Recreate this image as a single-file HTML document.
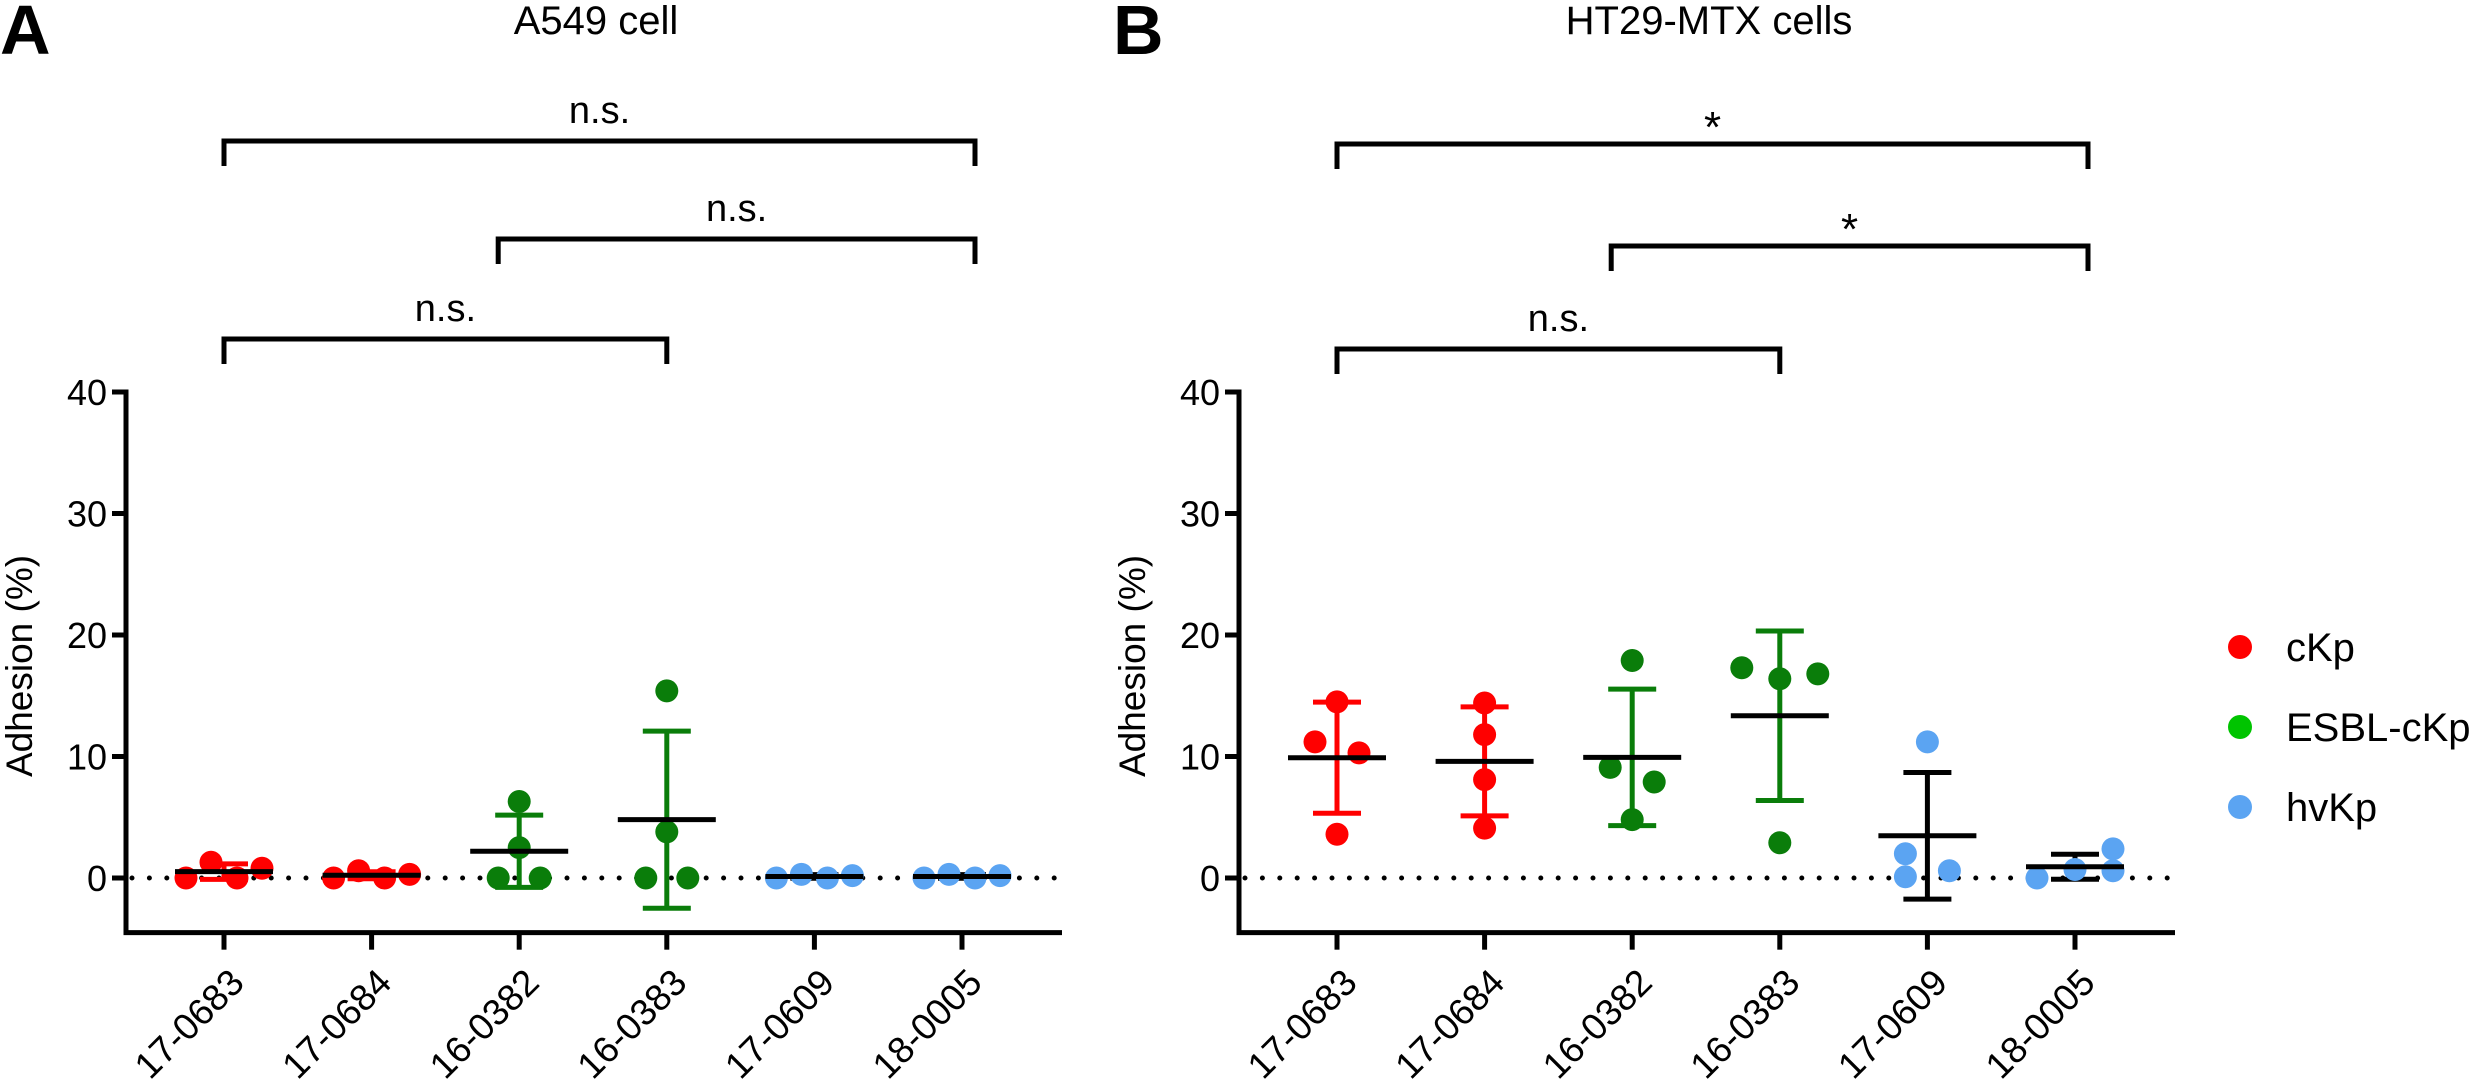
<!DOCTYPE html>
<html><head><meta charset="utf-8">
<style>
html,body{margin:0;padding:0;background:#fff;}
svg{display:block;font-family:"Liberation Sans","DejaVu Sans",sans-serif;}
</style></head>
<body>
<svg id="chart" xmlns="http://www.w3.org/2000/svg" width="2480" height="1092" viewBox="0 0 2480 1092">
<rect width="2480" height="1092" fill="#fff"/>
</svg>
<script>
const categories = ["17-0683","17-0684","16-0382","16-0383","17-0609","18-0005"];
const groupOf = ["cKp","cKp","ESBL-cKp","ESBL-cKp","hvKp","hvKp"];
const yTicks = [0,10,20,30,40];
const valuesA = [[0,1.3,0,0.8],[0,0.6,0,0.3],[0,6.3,2.5,0],[0,15.4,3.8,0],[0,0.3,0,0.2],[0,0.3,0,0.2]];
const valuesB = [[14.5,11.2,10.3,3.6],[14.4,11.8,8.1,4.1],[17.9,9.1,7.9,4.8],[17.3,16.4,16.8,2.9],[11.2,2.0,0.1,0.6],[0,0.7,2.4,0.6]];
const jitterA = [[-38,-13,13,38],[-38,-13,13,38],[-21,0,0,21],[-21,0,0,21],[-38,-13,13,38],[-38,-13,13,38]];
const jitterB = [[0,-22,22,0],[0,0,0,0],[0,-22,22,0],[-38,0,38,0],[0,-22,-22,22],[-38,0,38,38]];
const bracketsA = [{from:0,to:5,label:"n.s."},{from:2,to:5,label:"n.s."},{from:0,to:3,label:"n.s."}];
const bracketsB = [{from:0,to:5,label:"*"},{from:2,to:5,label:"*"},{from:0,to:3,label:"n.s."}];
const legendLabels = ["cKp","ESBL-cKp","hvKp"];

const dotColor = {"cKp":"#ff0000","ESBL-cKp":"#0a7d0a","hvKp":"#5ba4f2"};
const barColor = {"cKp":"#ff0000","ESBL-cKp":"#0a7d0a","hvKp":"#000000"};
const legendColor = {"cKp":"#ff0000","ESBL-cKp":"#00c400","hvKp":"#5ba4f2"};
const NS="http://www.w3.org/2000/svg";
const svg=document.getElementById('chart');
function el(tag,attrs,parent){const e=document.createElementNS(NS,tag);for(const k in attrs)e.setAttribute(k,attrs[k]);(parent||svg).appendChild(e);return e;}

function panel(p){
  const g=el('g',{});
  
  
  const ax=p.ax, y0=878, unit=12.15, step=147.6, firstOff=98;
  const y=v=>y0-v*unit;
  const x=i=>ax+firstOff+i*step;
  const yBottom=y(-4.5), xRight=ax+936;
  const t=el('text',{x:ax+470,y:34,'font-size':40,'text-anchor':'middle'},g);t.textContent=p.title;
  
  
  const L=el('text',{x:p.letterX,y:54,'font-size':70,'font-weight':'bold'},g);L.textContent=p.letter;
  
  
  const yt=el('text',{x:0,y:0,'font-size':37,'text-anchor':'middle',transform:`translate(${p.ytX},666) rotate(-90)`},g);yt.textContent="Adhesion (%)";
  
  
  const zl=el('line',{x1:ax+6,y1:y(0),x2:xRight,y2:y(0),stroke:'#000','stroke-width':5,'stroke-dasharray':'0 17.4','stroke-linecap':'round'},g);
  
  
  const ya=el('path',{d:`M${ax},${y(40)-2.5} V${yBottom}`,stroke:'#000','stroke-width':5,fill:'none'},g);
  
  
  const xa=el('path',{d:`M${ax-2.5},${yBottom} H${xRight}`,stroke:'#000','stroke-width':5,fill:'none'},g);
  
  
  yTicks.forEach(v=>{
    const tk=el('line',{x1:ax-14,y1:y(v),x2:ax,y2:y(v),stroke:'#000','stroke-width':5},g);
    
    
    const tl=el('text',{x:ax-19,y:y(v)+13,'font-size':36,'text-anchor':'end'},g);tl.textContent=v;
    
    
  });
  categories.forEach((c,i)=>{
    const tk=el('line',{x1:x(i),y1:yBottom,x2:x(i),y2:yBottom+17,stroke:'#000','stroke-width':5},g);
    
    
    const tl=el('text',{x:0,y:0,'font-size':37,'text-anchor':'end',transform:`translate(${x(i)+22},${yBottom+52}) rotate(-45)`},g);tl.textContent=c;
    
    
  });
  p.brackets.forEach((b,k)=>{
    const by=p.bracketY[k];
    const xa1=b.from===0?x(0):x(b.from)-21, xb=b.to===5?x(5)+13:x(b.to);
    const bp=el('path',{d:`M${xa1},${by+25} V${by} H${xb} V${by+25}`,stroke:'#000','stroke-width':5,fill:'none'},g);
    
    
    const bl=el('text',{x:(xa1+xb)/2,y:by-(b.label==="*"?2:18),'font-size':b.label==="*"?44:38,'text-anchor':'middle'},g);bl.textContent=b.label;
    
    
  });
  p.values.forEach((vals,i)=>{
    const grp=groupOf[i];
    const n=vals.length, mean=vals.reduce((a,b)=>a+b,0)/n;
    const sd=Math.sqrt(vals.reduce((a,b)=>a+(b-mean)*(b-mean),0)/(n-1));
    const eb=el('path',{d:`M${x(i)},${y(mean+sd)} V${y(mean-sd)} M${x(i)-24},${y(mean+sd)} H${x(i)+24} M${x(i)-24},${y(mean-sd)} H${x(i)+24}`,stroke:barColor[grp],'stroke-width':5,fill:'none'},g);
    
    
    vals.forEach((v,j)=>{
      const c=el('circle',{cx:x(i)+p.jitter[i][j],cy:y(v),r:11.5,fill:dotColor[grp]},g);
      
      
    });
    const ml=el('line',{x1:x(i)-49,y1:y(mean),x2:x(i)+49,y2:y(mean),stroke:'#000','stroke-width':5},g);
    
    
  });
}
panel({name:'panel-a',ax:126,title:'A549 cell',letter:'A',letterX:0,ytX:32,values:valuesA,jitter:jitterA,brackets:bracketsA,bracketY:[141,239,339]});
panel({name:'panel-b',ax:1239,title:'HT29-MTX cells',letter:'B',letterX:1113,ytX:1145,values:valuesB,jitter:jitterB,brackets:bracketsB,bracketY:[144,246,349]});

const lg=el('g',{});


legendLabels.forEach((lab,k)=>{
  const cy=647+k*80;
  const c=el('circle',{cx:2240,cy:cy,r:12,fill:legendColor[lab]},lg);
  
  
  const t=el('text',{x:2286,y:cy+14,'font-size':40},lg);t.textContent=lab;
  
  
});
</script>
</body></html>
